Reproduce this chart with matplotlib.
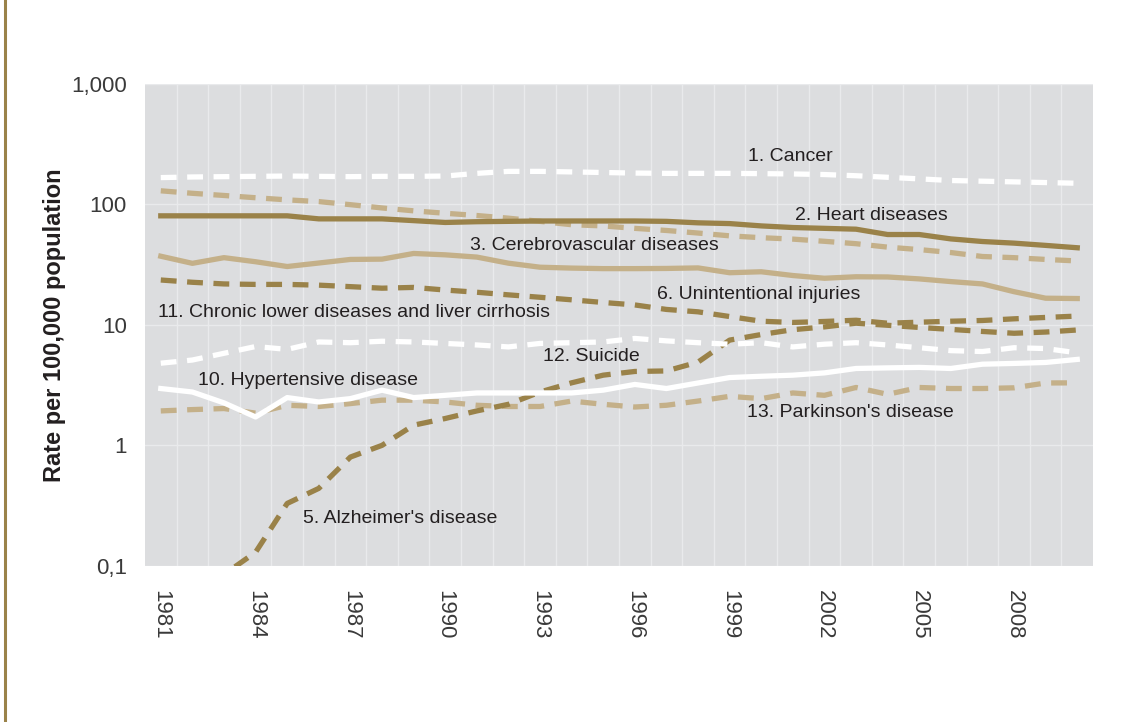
import matplotlib.pyplot as plt
import numpy as np
from matplotlib.lines import Line2D

years = np.arange(1981, 2011)

cancer = [166, 168, 169, 170, 171, 170, 169, 170, 170, 171, 180, 187, 187, 185, 183,
          181, 180, 180, 180, 179, 178, 176, 172, 167, 162, 157, 155, 153, 151, 149]
heart = [80, 80, 80, 80, 80, 75.5, 75.5, 75.5, 73, 70.5, 71.5, 72, 72.5, 72.5, 72.5,
         72.5, 72, 70, 69, 66, 64, 63, 62, 56, 56, 51.5, 49, 47.5, 45.5, 43.5]
cerebro = [37, 32.3, 36, 33.3, 30.4, 32.5, 34.8, 35, 39, 38, 36.4, 32.4, 30, 29.5, 29.2,
           29.2, 29.3, 29.6, 27, 27.5, 25.6, 24.3, 25, 24.9, 24, 22.8, 21.8, 18.8, 16.6, 16.5]
tan_dashed = [129, 123, 118, 113, 108.5, 105, 99, 93, 88, 84, 80.5, 76.5, 72, 67.5, 66,
              63, 60.5, 57.6, 54.6, 52.7, 51.3, 49.2, 47, 44, 42, 39.7, 36.8, 36, 34.8, 33.8]
injuries = [23.5, 22.5, 21.8, 21.6, 21.6, 21.3, 20.7, 20.1, 20.4, 19.4, 18.6, 17.7, 16.9,
            16.1, 15.3, 14.6, 13.4, 12.8, 11.7, 10.7, 10.45, 10.65, 10.9, 10.3, 10.5,
            10.7, 10.85, 11.2, 11.5, 11.8]
alzheimer = [0.06, 0.07, 0.085, 0.13, 0.33, 0.44, 0.8, 1.0, 1.47, 1.67, 1.93, 2.19, 2.77,
             3.3, 3.82, 4.1, 4.14, 4.9, 7.46, 8.3, 9.1, 9.6, 10.3, 9.9, 9.5, 9.15, 8.8,
             8.5, 8.7, 9.05]
suicide = [4.8, 5.1, 5.8, 6.6, 6.25, 7.2, 7.1, 7.3, 7.2, 7.0, 6.8, 6.55, 7.0, 7.1, 7.2,
           7.7, 7.35, 7.1, 6.9, 7.1, 6.55, 6.9, 7.1, 6.8, 6.45, 6.1, 6.0, 6.45, 6.35, 5.85]
hypertensive = [2.96, 2.77, 2.25, 1.72, 2.49, 2.29, 2.44, 2.87, 2.49, 2.6, 2.72, 2.72,
                2.72, 2.72, 2.87, 3.2, 2.96, 3.29, 3.65, 3.74, 3.82, 3.99, 4.34, 4.39,
                4.43, 4.34, 4.71, 4.78, 4.87, 5.16]
parkinson = [1.93, 1.98, 2.02, 1.85, 2.15, 2.1, 2.22, 2.37, 2.37, 2.29, 2.15, 2.1, 2.1,
             2.33, 2.19, 2.08, 2.15, 2.33, 2.55, 2.44, 2.72, 2.6, 3.02, 2.65, 3.02, 2.96,
             2.96, 3.0, 3.29, 3.3]

ytick_vals = [0.1, 1, 10, 100, 1000]
ytick_labels = ['0,1', '1', '10', '100', '1,000']
xtick_years = list(range(1981, 2010, 3))

DARK = '#9a8249'
TAN = '#c4b089'
WHITE = '#ffffff'
BG = '#dcdddf'
TXT = '#231f20'

plt.rcParams['font.family'] = ['Liberation Sans', 'DejaVu Sans']

fig = plt.figure(figsize=(11.3, 7.22), dpi=100)
ax = fig.add_axes([0.1283, 0.2161, 0.8390, 0.6682])
ax.set_facecolor(BG)

lw = 3.8
dash = (3.0, 2.0)

ax.plot(years, tan_dashed, color=TAN, lw=lw, dashes=dash)
ax.plot(years, parkinson, color=TAN, lw=lw, dashes=dash)
ax.plot(years, cerebro, color=TAN, lw=lw)
ax.plot(years, heart, color=DARK, lw=lw)
ax.plot(years, injuries, color=DARK, lw=lw, dashes=dash)
ax.plot(years, alzheimer, color=DARK, lw=lw, dashes=dash)
ax.plot(years, hypertensive, color=WHITE, lw=lw)
ax.plot(years, suicide, color=WHITE, lw=lw, dashes=dash)
ax.plot(years, cancer, color=WHITE, lw=lw, dashes=dash)

ax.set_yscale('log')
ax.set_ylim(0.1, 1000)
ax.set_xlim(1980.5, 2010.5)

ax.set_yticks(ytick_vals)
ax.set_yticklabels(ytick_labels)
ax.yaxis.set_minor_locator(plt.NullLocator())
ax.set_xticks(xtick_years)
ax.set_xticklabels([str(y) for y in xtick_years], rotation=270, va='top', ha='center')
ax.set_xticks(np.arange(1981.5, 2010, 1), minor=True)

ax.tick_params(axis='y', length=0, pad=13, labelsize=16, labelcolor='#3a3a3a')
ax.tick_params(axis='x', which='both', length=0, pad=17, labelsize=16, labelcolor='#3a3a3a')

ax.grid(True, which='major', axis='y', color='#e9eaec', lw=1)
ax.grid(True, which='minor', axis='x', color='#e9eaec', lw=1)
ax.set_axisbelow(True)
for s in ax.spines.values():
    s.set_visible(False)

ax.set_ylabel('Rate per 100,000 population', fontsize=17, fontweight='bold',
              color=TXT, labelpad=4)

labels = [
    ('1. Cancer', 1999.58, 157),
    ('2. Heart diseases', 2001.07, 216),
    ('3. Cerebrovascular diseases', 1990.78, 246),
    ('6. Unintentional injuries', 1996.7, 295),
    ('11. Chronic lower diseases and liver cirrhosis', 1980.91, 312),
    ('12. Suicide', 1993.1, 356),
    ('10. Hypertensive disease', 1982.18, 380),
    ("13. Parkinson's disease", 1999.55, 412),
    ("5. Alzheimer's disease", 1985.5, 518),
]
for txt, xv, ypix in labels:
    yv = 10 ** ((445 - ypix) / 120.3)
    ax.text(xv, yv, txt, fontsize=14, color=TXT, va='center', ha='left')

fig.add_artist(Line2D([5 / 1130, 5 / 1130], [0, 1], color=DARK, lw=2.2,
                      transform=fig.transFigure))

plt.savefig('out.png', dpi=100)
